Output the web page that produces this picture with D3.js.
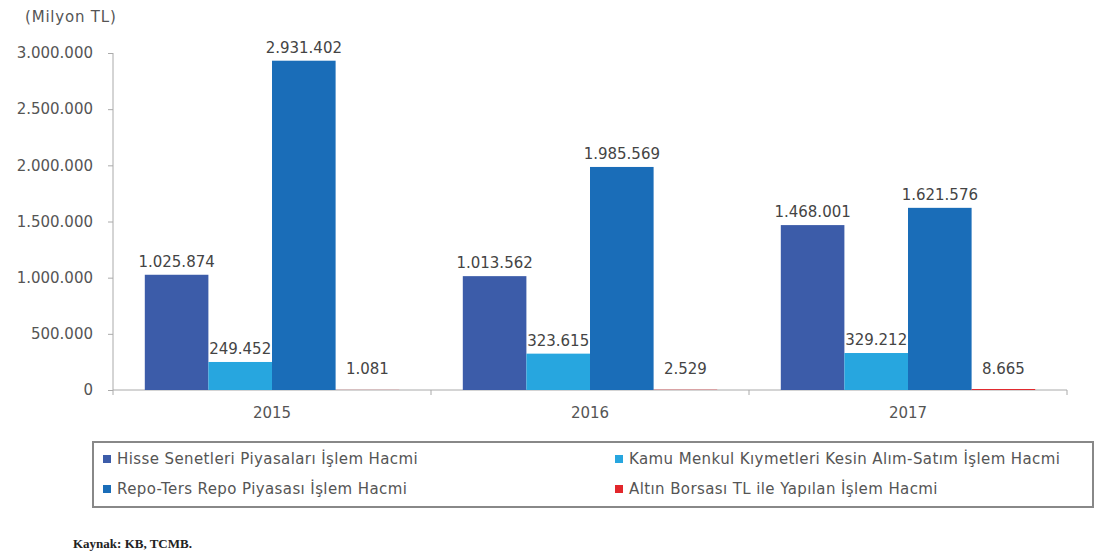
<!DOCTYPE html>
<html>
<head>
<meta charset="utf-8">
<script src="https://cdn.jsdelivr.net/npm/d3@7"></script>
<style>
  html, body { margin: 0; padding: 0; background: #fff; }
  svg { display: block; }
</style>
</head>
<body>
<svg id="chart" width="1103" height="556"></svg>
<script>
// Yearly trading volumes (million TL)
const years = ["2015", "2016", "2017"];
const seriesNames = [
  "Hisse Senetleri Piyasaları İşlem Hacmi",
  "Kamu Menkul Kıymetleri Kesin Alım-Satım İşlem Hacmi",
  "Repo-Ters Repo Piyasası İşlem Hacmi",
  "Altın Borsası TL ile Yapılan İşlem Hacmi"
];
const hisse = [1025874, 1013562, 1468001];
const kamu = [249452, 323615, 329212];
const repo = [2931402, 1985569, 1621576];
const altin = [1081, 2529, 8665];
const yTicks = [0, 500000, 1000000, 1500000, 2000000, 2500000, 3000000];
const colors = ["#3c5ca9", "#27a6df", "#1a6db8", "#e2262b"];

const values = [hisse, kamu, repo, altin];

const svg = d3.select("#chart");
const fontFamily = "'DejaVu Sans', Verdana, sans-serif";

const x0 = d3.scaleBand().domain(years).range([113, 1067]).paddingInner(0).paddingOuter(0);
const x1 = d3.scaleBand().domain(d3.range(seriesNames.length))
  .range([0, x0.bandwidth()]).paddingInner(0).paddingOuter(0.5);
const y = d3.scaleLinear().domain([0, 3000000]).range([390, 53]);

const fmt = v => d3.format(",")(v).replace(/,/g, ".");

// Unit caption
svg.append("text").attr("x", 25).attr("y", 22)
  .attr("font-family", fontFamily).attr("font-size", 15).attr("fill", "#555")
  .attr("letter-spacing", 0.8)
  .text("(Milyon TL)");

// Y axis
const yAxis = d3.axisLeft(y).tickValues(yTicks).tickFormat(fmt).tickSize(5).tickPadding(15);
const gy = svg.append("g").attr("transform", "translate(113,0)").call(yAxis);
gy.select(".domain").attr("stroke", "#aaa").attr("d", "M0,53V390");
gy.selectAll(".tick line").attr("stroke", "#aaa");
gy.selectAll(".tick text").attr("font-family", fontFamily).attr("font-size", 15).attr("fill", "#555");

// X axis
const gx = svg.append("g").attr("transform", "translate(0,390)");
gx.append("line").attr("x1", 113).attr("x2", 1067).attr("stroke", "#aaa");
gx.selectAll(".sep").data([...years.map(d => x0(d)), 1067]).join("line")
  .attr("class", "sep").attr("x1", d => d).attr("x2", d => d).attr("y1", 0).attr("y2", 5)
  .attr("stroke", "#aaa");
gx.selectAll(".yl").data(years).join("text")
  .attr("class", "yl")
  .attr("x", d => x0(d) + x0.bandwidth() / 2).attr("y", 28)
  .attr("text-anchor", "middle")
  .attr("font-family", fontFamily).attr("font-size", 15).attr("fill", "#555")
  .text(d => d);

// Bars and value labels
const groups = svg.append("g").selectAll("g").data(years).join("g")
  .attr("transform", d => `translate(${x0(d)},0)`);

groups.each(function (yr, yi) {
  const g = d3.select(this);
  values.forEach((arr, si) => {
    const v = arr[yi];
    g.append("rect")
      .attr("x", x1(si)).attr("width", x1.bandwidth())
      .attr("y", y(v)).attr("height", 390 - y(v))
      .attr("fill", colors[si]);
    g.append("text")
      .attr("x", x1(si) + x1.bandwidth() / 2)
      .attr("y", Math.min(y(v), 390 - 8) - 8)
      .attr("text-anchor", "middle")
      .attr("font-family", fontFamily).attr("font-size", 15).attr("fill", "#444")
      .text(fmt(v));
  });
});

// Legend box
const legend = svg.append("g");
legend.append("rect").attr("x", 93).attr("y", 442).attr("width", 1000).attr("height", 65)
  .attr("fill", "none").attr("stroke", "#888").attr("stroke-width", 2);
const legendPos = [[103, 459], [615, 459], [103, 489], [615, 489]];
seriesNames.forEach((name, i) => {
  const [lx, ly] = legendPos[i];
  legend.append("rect").attr("x", lx).attr("y", ly - 4).attr("width", 8).attr("height", 8)
    .attr("fill", colors[i]);
  legend.append("text").attr("x", lx + 14).attr("y", ly + 5)
    .attr("font-family", fontFamily).attr("font-size", 15).attr("fill", "#555")
    .attr("letter-spacing", 0.4)
    .text(name);
});

// Source note
svg.append("text").attr("x", 73).attr("y", 548)
  .attr("font-family", "'Liberation Serif', 'Times New Roman', serif")
  .attr("font-size", 13).attr("font-weight", "bold").attr("fill", "#222")
  .text("Kaynak: KB, TCMB.");
</script>
</body>
</html>
